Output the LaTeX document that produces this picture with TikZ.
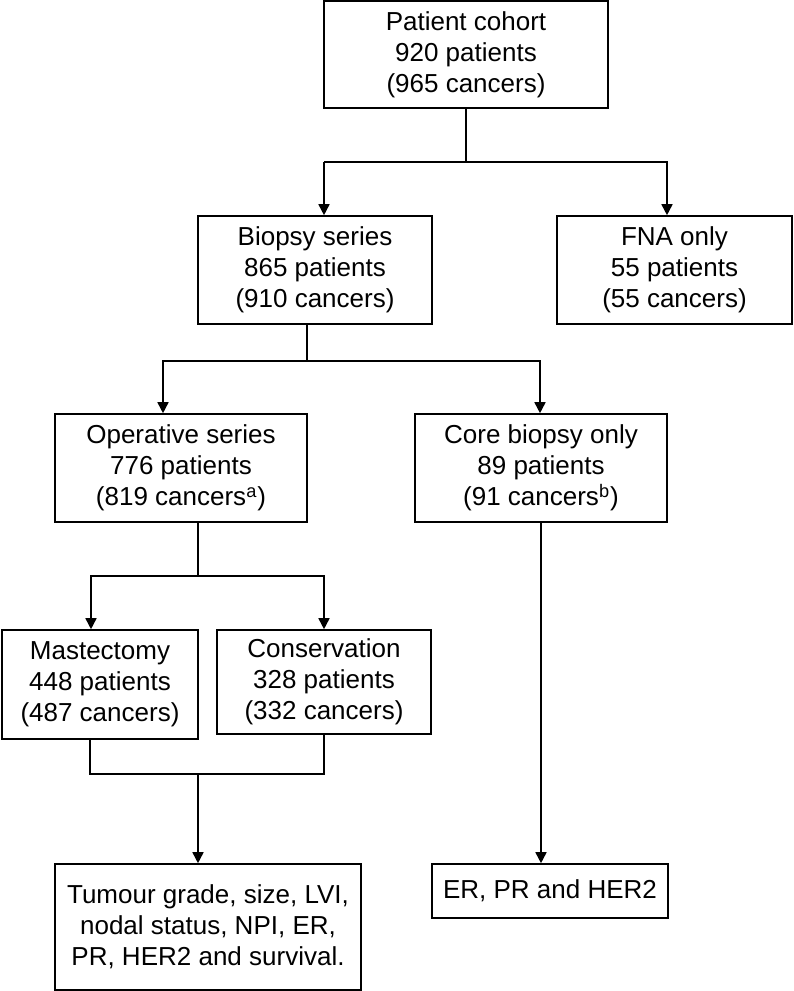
\documentclass[tikz,border=0pt]{standalone}
\usepackage{fontspec}
\setmainfont{Liberation Sans}
\usetikzlibrary{arrows.meta}

\begin{document}
\begin{tikzpicture}[x=0.5pt, y=-0.5pt, thick,
  stage/.style = {draw, align=center, inner sep=0pt, font=\fontsize{13}{15.5}\selectfont},
  feed/.style = {-{Triangle[length=5.5pt, width=5.5pt]}}]
\useasboundingbox (0,0) rectangle (793,991);
% boxes
\node[stage, minimum width=142pt, minimum height=53.5pt] (cohort) at (466,54.5) {Patient cohort\\920 patients\\(965 cancers)};
\node[stage, minimum width=117pt, minimum height=54pt] (biopsy) at (315,270) {Biopsy series\\865 patients\\(910 cancers)};
\node[stage, minimum width=117.5pt, minimum height=54pt] (fna) at (674.5,270) {FNA only\\55 patients\\(55 cancers)};
\node[stage, minimum width=126pt, minimum height=54pt] (operative) at (181,468) {Operative series\\776 patients\\(819 cancers\textsuperscript{a})};
\node[stage, minimum width=126pt, minimum height=54pt] (core) at (541,468) {Core biopsy only\\89 patients\\(91 cancers\textsuperscript{b})};
\node[stage, minimum width=98pt, minimum height=54.5pt] (mast) at (100,684.5) {Mastectomy\\448 patients\\(487 cancers)};
\node[stage, minimum width=107pt, minimum height=52pt] (cons) at (324,682) {Conservation\\328 patients\\(332 cancers)};
\node[stage, minimum width=153pt, minimum height=63pt] (tumour) at (208,927) {Tumour grade, size, LVI,\\nodal status, NPI, ER,\\PR, HER2 and survival.};
\node[stage, minimum width=118pt, minimum height=27pt] (er) at (550,891) {ER, PR and HER2};

% junctions
\coordinate (s1) at (324,162);
\coordinate (e1) at (667,162);
\coordinate (j2) at (307,361);
\coordinate (s2) at (163,361);
\coordinate (e2) at (540,361);
\coordinate (j3) at (198,576);
\coordinate (s3) at (91,576);
\coordinate (e3) at (324,576);
\coordinate (m1) at (90,774);
\coordinate (m2) at (324,774);
\coordinate (j4) at (198,774);

% connectors
\draw (cohort.south) -- (cohort.south |- s1);
\draw[feed] (s1) -- (s1 |- biopsy.north);
\draw[feed] (s1) -- (e1) -- (e1 |- fna.north);

\draw (j2 |- biopsy.south) -- (j2);
\draw[feed] (j2) -- (s2) -- (s2 |- operative.north);
\draw[feed] (j2) -- (e2) -- (e2 |- core.north);

\draw (j3 |- operative.south) -- (j3);
\draw[feed] (j3) -- (s3) -- (s3 |- mast.north);
\draw[feed] (j3) -- (e3) -- (e3 |- cons.north);

\draw (m1 |- mast.south) -- (m1) -- (m2) -- (m2 |- cons.south);
\draw[feed] (j4) -- (j4 |- tumour.north);

\draw[feed] (core.south) -- (core.south |- er.north);
\end{tikzpicture}
\end{document}
